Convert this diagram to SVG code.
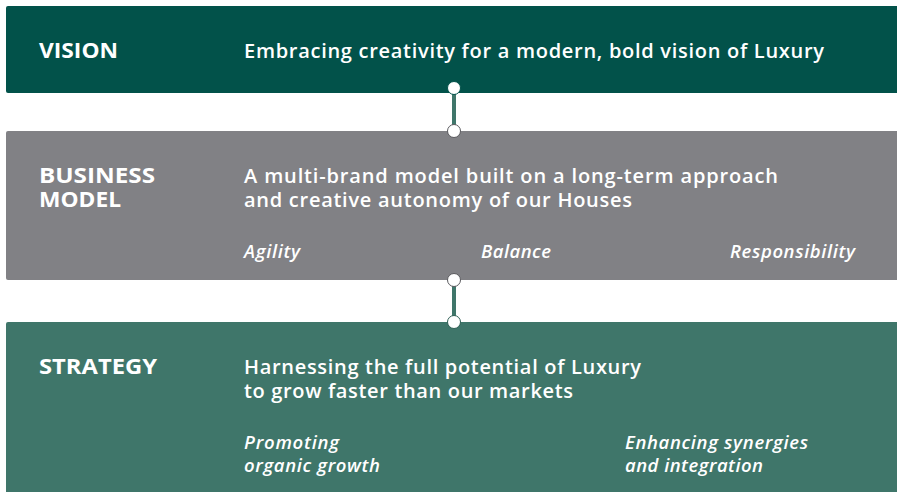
<svg xmlns="http://www.w3.org/2000/svg" width="897" height="492" viewBox="0 0 897 492">
  <style>
    .title { font-family: "Open Sans", "Liberation Sans", sans-serif; font-weight: 700; font-size: 21px; fill: #ffffff; }
    .body { font-family: "Open Sans", "Liberation Sans", sans-serif; font-weight: 600; font-size: 20px; fill: #ffffff; }
    .sub { font-family: "Open Sans", "Liberation Sans", sans-serif; font-weight: 600; font-style: italic; font-size: 18.5px; fill: #ffffff; }
    .dot { fill: #ffffff; }
  </style>
  <rect width="897" height="492" fill="#ffffff"/>

  <g id="vision">
    <rect x="6" y="6" width="897" height="87" rx="2" fill="#02524a"/>
    <text class="title" x="39" y="58" textLength="79" lengthAdjust="spacingAndGlyphs">VISION</text>
    <text class="body" x="244" y="58" textLength="580" lengthAdjust="spacing">Embracing creativity for a modern, bold vision of Luxury</text>
  </g>

  <g id="business-model">
    <rect x="6" y="131" width="897" height="149" rx="2" fill="#818185"/>
    <text class="title" x="39" y="183" textLength="116" lengthAdjust="spacingAndGlyphs">BUSINESS</text>
    <text class="title" x="39" y="207" textLength="82" lengthAdjust="spacingAndGlyphs">MODEL</text>
    <text class="body" x="244" y="183" textLength="534" lengthAdjust="spacing">A multi-brand model built on a long-term approach</text>
    <text class="body" x="244" y="207" textLength="388" lengthAdjust="spacing">and creative autonomy of our Houses</text>
    <text class="sub" x="244" y="258" textLength="56" lengthAdjust="spacing">Agility</text>
    <text class="sub" x="481" y="258" textLength="70" lengthAdjust="spacing">Balance</text>
    <text class="sub" x="730" y="258" textLength="125" lengthAdjust="spacing">Responsibility</text>
  </g>

  <g id="strategy">
    <rect x="6" y="322" width="897" height="180" rx="2" fill="#3f766a"/>
    <text class="title" x="39" y="374" textLength="118" lengthAdjust="spacingAndGlyphs">STRATEGY</text>
    <text class="body" x="244" y="374" textLength="397" lengthAdjust="spacing">Harnessing the full potential of Luxury</text>
    <text class="body" x="244" y="398" textLength="329" lengthAdjust="spacing">to grow faster than our markets</text>
    <text class="sub" x="244" y="449" textLength="95" lengthAdjust="spacing">Promoting</text>
    <text class="sub" x="244" y="472" textLength="136" lengthAdjust="spacing">organic growth</text>
    <text class="sub" x="625" y="449" textLength="183" lengthAdjust="spacing">Enhancing synergies</text>
    <text class="sub" x="625" y="472" textLength="138" lengthAdjust="spacing">and integration</text>
  </g>

  <g id="connectors">
    <line x1="454" y1="88" x2="454" y2="131" stroke="#3f766a" stroke-width="4"/>
    <circle class="dot" cx="454" cy="88" r="6.5" stroke="#02524a" stroke-width="1"/>
    <circle class="dot" cx="454" cy="131" r="6.5" stroke="#5a5a5e" stroke-width="1"/>
    <line x1="454" y1="280" x2="454" y2="322" stroke="#3f766a" stroke-width="4"/>
    <circle class="dot" cx="454" cy="280" r="6.5" stroke="#5a5a5e" stroke-width="1"/>
    <circle class="dot" cx="454" cy="322" r="6.5" stroke="#2f5f55" stroke-width="1"/>
  </g>
</svg>
